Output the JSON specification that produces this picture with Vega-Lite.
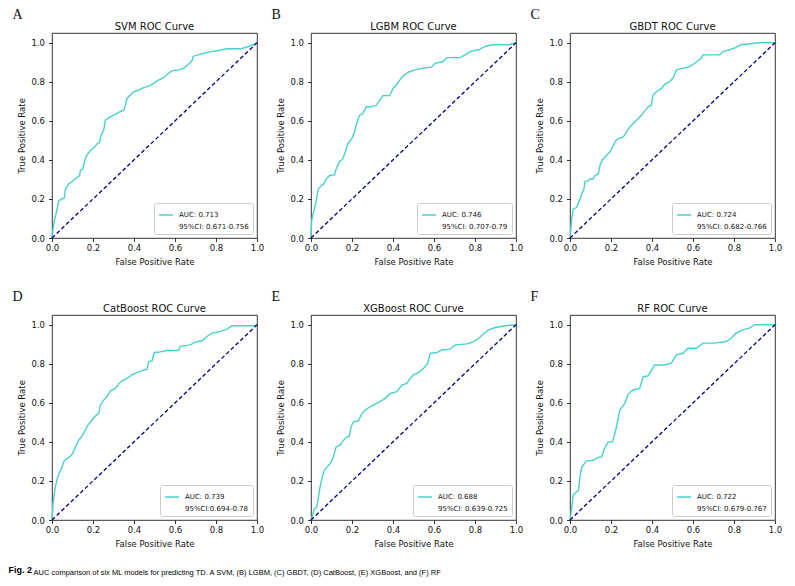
{
  "$schema": "https://vega.github.io/schema/vega-lite/v6.json",
  "padding": {"left": 8, "top": 7, "right": 5, "bottom": 5},
  "background": "white",
  "datasets": {
    "diag": [{"fpr": 0, "tpr": 0}, {"fpr": 1, "tpr": 1}],
    "roc": [
      {"model": "SVM", "fpr": 0, "tpr": 0}, {"model": "SVM", "fpr": 0.005, "tpr": 0.045}, {"model": "SVM", "fpr": 0.013, "tpr": 0.096}, {"model": "SVM", "fpr": 0.021, "tpr": 0.13}, {"model": "SVM", "fpr": 0.033, "tpr": 0.19}, {"model": "SVM", "fpr": 0.049, "tpr": 0.2}, {"model": "SVM", "fpr": 0.06, "tpr": 0.205}, {"model": "SVM", "fpr": 0.065, "tpr": 0.25}, {"model": "SVM", "fpr": 0.081, "tpr": 0.277}, {"model": "SVM", "fpr": 0.098, "tpr": 0.289}, {"model": "SVM", "fpr": 0.109, "tpr": 0.3}, {"model": "SVM", "fpr": 0.122, "tpr": 0.31}, {"model": "SVM", "fpr": 0.135, "tpr": 0.32}, {"model": "SVM", "fpr": 0.138, "tpr": 0.345}, {"model": "SVM", "fpr": 0.15, "tpr": 0.354}, {"model": "SVM", "fpr": 0.158, "tpr": 0.39}, {"model": "SVM", "fpr": 0.167, "tpr": 0.42}, {"model": "SVM", "fpr": 0.187, "tpr": 0.448}, {"model": "SVM", "fpr": 0.207, "tpr": 0.466}, {"model": "SVM", "fpr": 0.22, "tpr": 0.483}, {"model": "SVM", "fpr": 0.232, "tpr": 0.49}, {"model": "SVM", "fpr": 0.239, "tpr": 0.526}, {"model": "SVM", "fpr": 0.252, "tpr": 0.552}, {"model": "SVM", "fpr": 0.26, "tpr": 0.603}, {"model": "SVM", "fpr": 0.276, "tpr": 0.615}, {"model": "SVM", "fpr": 0.301, "tpr": 0.629}, {"model": "SVM", "fpr": 0.325, "tpr": 0.643}, {"model": "SVM", "fpr": 0.35, "tpr": 0.655}, {"model": "SVM", "fpr": 0.358, "tpr": 0.68}, {"model": "SVM", "fpr": 0.366, "tpr": 0.715}, {"model": "SVM", "fpr": 0.382, "tpr": 0.732}, {"model": "SVM", "fpr": 0.398, "tpr": 0.749}, {"model": "SVM", "fpr": 0.423, "tpr": 0.758}, {"model": "SVM", "fpr": 0.447, "tpr": 0.77}, {"model": "SVM", "fpr": 0.472, "tpr": 0.778}, {"model": "SVM", "fpr": 0.496, "tpr": 0.792}, {"model": "SVM", "fpr": 0.52, "tpr": 0.809}, {"model": "SVM", "fpr": 0.545, "tpr": 0.821}, {"model": "SVM", "fpr": 0.569, "tpr": 0.844}, {"model": "SVM", "fpr": 0.585, "tpr": 0.856}, {"model": "SVM", "fpr": 0.618, "tpr": 0.861}, {"model": "SVM", "fpr": 0.642, "tpr": 0.869}, {"model": "SVM", "fpr": 0.662, "tpr": 0.887}, {"model": "SVM", "fpr": 0.683, "tpr": 0.907}, {"model": "SVM", "fpr": 0.688, "tpr": 0.93}, {"model": "SVM", "fpr": 0.724, "tpr": 0.942}, {"model": "SVM", "fpr": 0.764, "tpr": 0.952}, {"model": "SVM", "fpr": 0.805, "tpr": 0.959}, {"model": "SVM", "fpr": 0.854, "tpr": 0.969}, {"model": "SVM", "fpr": 0.919, "tpr": 0.969}, {"model": "SVM", "fpr": 0.959, "tpr": 0.981}, {"model": "SVM", "fpr": 1, "tpr": 1},
      {"model": "LGBM", "fpr": 0, "tpr": 0}, {"model": "LGBM", "fpr": 0.003, "tpr": 0.088}, {"model": "LGBM", "fpr": 0.008, "tpr": 0.113}, {"model": "LGBM", "fpr": 0.016, "tpr": 0.148}, {"model": "LGBM", "fpr": 0.025, "tpr": 0.182}, {"model": "LGBM", "fpr": 0.029, "tpr": 0.216}, {"model": "LGBM", "fpr": 0.036, "tpr": 0.25}, {"model": "LGBM", "fpr": 0.049, "tpr": 0.268}, {"model": "LGBM", "fpr": 0.062, "tpr": 0.277}, {"model": "LGBM", "fpr": 0.074, "tpr": 0.302}, {"model": "LGBM", "fpr": 0.09, "tpr": 0.32}, {"model": "LGBM", "fpr": 0.114, "tpr": 0.323}, {"model": "LGBM", "fpr": 0.123, "tpr": 0.354}, {"model": "LGBM", "fpr": 0.139, "tpr": 0.392}, {"model": "LGBM", "fpr": 0.155, "tpr": 0.405}, {"model": "LGBM", "fpr": 0.167, "tpr": 0.44}, {"model": "LGBM", "fpr": 0.18, "tpr": 0.483}, {"model": "LGBM", "fpr": 0.199, "tpr": 0.509}, {"model": "LGBM", "fpr": 0.212, "tpr": 0.543}, {"model": "LGBM", "fpr": 0.225, "tpr": 0.595}, {"model": "LGBM", "fpr": 0.237, "tpr": 0.629}, {"model": "LGBM", "fpr": 0.253, "tpr": 0.637}, {"model": "LGBM", "fpr": 0.27, "tpr": 0.672}, {"model": "LGBM", "fpr": 0.294, "tpr": 0.672}, {"model": "LGBM", "fpr": 0.319, "tpr": 0.68}, {"model": "LGBM", "fpr": 0.335, "tpr": 0.706}, {"model": "LGBM", "fpr": 0.351, "tpr": 0.729}, {"model": "LGBM", "fpr": 0.384, "tpr": 0.729}, {"model": "LGBM", "fpr": 0.4, "tpr": 0.766}, {"model": "LGBM", "fpr": 0.417, "tpr": 0.784}, {"model": "LGBM", "fpr": 0.433, "tpr": 0.809}, {"model": "LGBM", "fpr": 0.449, "tpr": 0.83}, {"model": "LGBM", "fpr": 0.474, "tpr": 0.849}, {"model": "LGBM", "fpr": 0.507, "tpr": 0.861}, {"model": "LGBM", "fpr": 0.539, "tpr": 0.869}, {"model": "LGBM", "fpr": 0.588, "tpr": 0.875}, {"model": "LGBM", "fpr": 0.605, "tpr": 0.895}, {"model": "LGBM", "fpr": 0.645, "tpr": 0.904}, {"model": "LGBM", "fpr": 0.662, "tpr": 0.924}, {"model": "LGBM", "fpr": 0.727, "tpr": 0.924}, {"model": "LGBM", "fpr": 0.752, "tpr": 0.938}, {"model": "LGBM", "fpr": 0.776, "tpr": 0.955}, {"model": "LGBM", "fpr": 0.817, "tpr": 0.964}, {"model": "LGBM", "fpr": 0.85, "tpr": 0.981}, {"model": "LGBM", "fpr": 0.882, "tpr": 0.99}, {"model": "LGBM", "fpr": 0.964, "tpr": 0.99}, {"model": "LGBM", "fpr": 1, "tpr": 1},
      {"model": "GBDT", "fpr": 0, "tpr": 0}, {"model": "GBDT", "fpr": 0.008, "tpr": 0.096}, {"model": "GBDT", "fpr": 0.016, "tpr": 0.148}, {"model": "GBDT", "fpr": 0.032, "tpr": 0.156}, {"model": "GBDT", "fpr": 0.041, "tpr": 0.182}, {"model": "GBDT", "fpr": 0.049, "tpr": 0.199}, {"model": "GBDT", "fpr": 0.057, "tpr": 0.225}, {"model": "GBDT", "fpr": 0.068, "tpr": 0.251}, {"model": "GBDT", "fpr": 0.073, "tpr": 0.289}, {"model": "GBDT", "fpr": 0.089, "tpr": 0.294}, {"model": "GBDT", "fpr": 0.097, "tpr": 0.302}, {"model": "GBDT", "fpr": 0.113, "tpr": 0.302}, {"model": "GBDT", "fpr": 0.122, "tpr": 0.32}, {"model": "GBDT", "fpr": 0.138, "tpr": 0.328}, {"model": "GBDT", "fpr": 0.146, "tpr": 0.371}, {"model": "GBDT", "fpr": 0.159, "tpr": 0.402}, {"model": "GBDT", "fpr": 0.178, "tpr": 0.423}, {"model": "GBDT", "fpr": 0.194, "tpr": 0.44}, {"model": "GBDT", "fpr": 0.211, "tpr": 0.474}, {"model": "GBDT", "fpr": 0.224, "tpr": 0.5}, {"model": "GBDT", "fpr": 0.24, "tpr": 0.512}, {"model": "GBDT", "fpr": 0.259, "tpr": 0.517}, {"model": "GBDT", "fpr": 0.276, "tpr": 0.543}, {"model": "GBDT", "fpr": 0.292, "tpr": 0.569}, {"model": "GBDT", "fpr": 0.308, "tpr": 0.586}, {"model": "GBDT", "fpr": 0.324, "tpr": 0.603}, {"model": "GBDT", "fpr": 0.348, "tpr": 0.629}, {"model": "GBDT", "fpr": 0.365, "tpr": 0.651}, {"model": "GBDT", "fpr": 0.381, "tpr": 0.672}, {"model": "GBDT", "fpr": 0.397, "tpr": 0.68}, {"model": "GBDT", "fpr": 0.405, "tpr": 0.732}, {"model": "GBDT", "fpr": 0.421, "tpr": 0.749}, {"model": "GBDT", "fpr": 0.446, "tpr": 0.766}, {"model": "GBDT", "fpr": 0.462, "tpr": 0.787}, {"model": "GBDT", "fpr": 0.486, "tpr": 0.801}, {"model": "GBDT", "fpr": 0.502, "tpr": 0.818}, {"model": "GBDT", "fpr": 0.519, "tpr": 0.861}, {"model": "GBDT", "fpr": 0.551, "tpr": 0.869}, {"model": "GBDT", "fpr": 0.583, "tpr": 0.878}, {"model": "GBDT", "fpr": 0.608, "tpr": 0.895}, {"model": "GBDT", "fpr": 0.64, "tpr": 0.921}, {"model": "GBDT", "fpr": 0.648, "tpr": 0.938}, {"model": "GBDT", "fpr": 0.729, "tpr": 0.938}, {"model": "GBDT", "fpr": 0.746, "tpr": 0.955}, {"model": "GBDT", "fpr": 0.778, "tpr": 0.964}, {"model": "GBDT", "fpr": 0.802, "tpr": 0.973}, {"model": "GBDT", "fpr": 0.834, "tpr": 0.99}, {"model": "GBDT", "fpr": 0.924, "tpr": 1}, {"model": "GBDT", "fpr": 1, "tpr": 1},
      {"model": "CatBoost", "fpr": 0, "tpr": 0}, {"model": "CatBoost", "fpr": 0.005, "tpr": 0.082}, {"model": "CatBoost", "fpr": 0.011, "tpr": 0.134}, {"model": "CatBoost", "fpr": 0.018, "tpr": 0.177}, {"model": "CatBoost", "fpr": 0.028, "tpr": 0.22}, {"model": "CatBoost", "fpr": 0.037, "tpr": 0.245}, {"model": "CatBoost", "fpr": 0.049, "tpr": 0.271}, {"model": "CatBoost", "fpr": 0.06, "tpr": 0.305}, {"model": "CatBoost", "fpr": 0.073, "tpr": 0.314}, {"model": "CatBoost", "fpr": 0.089, "tpr": 0.326}, {"model": "CatBoost", "fpr": 0.102, "tpr": 0.343}, {"model": "CatBoost", "fpr": 0.114, "tpr": 0.374}, {"model": "CatBoost", "fpr": 0.13, "tpr": 0.408}, {"model": "CatBoost", "fpr": 0.146, "tpr": 0.429}, {"model": "CatBoost", "fpr": 0.163, "tpr": 0.46}, {"model": "CatBoost", "fpr": 0.174, "tpr": 0.485}, {"model": "CatBoost", "fpr": 0.195, "tpr": 0.511}, {"model": "CatBoost", "fpr": 0.211, "tpr": 0.532}, {"model": "CatBoost", "fpr": 0.228, "tpr": 0.545}, {"model": "CatBoost", "fpr": 0.236, "tpr": 0.588}, {"model": "CatBoost", "fpr": 0.252, "tpr": 0.614}, {"model": "CatBoost", "fpr": 0.268, "tpr": 0.631}, {"model": "CatBoost", "fpr": 0.285, "tpr": 0.662}, {"model": "CatBoost", "fpr": 0.309, "tpr": 0.674}, {"model": "CatBoost", "fpr": 0.325, "tpr": 0.696}, {"model": "CatBoost", "fpr": 0.341, "tpr": 0.713}, {"model": "CatBoost", "fpr": 0.366, "tpr": 0.725}, {"model": "CatBoost", "fpr": 0.39, "tpr": 0.743}, {"model": "CatBoost", "fpr": 0.415, "tpr": 0.755}, {"model": "CatBoost", "fpr": 0.439, "tpr": 0.765}, {"model": "CatBoost", "fpr": 0.463, "tpr": 0.772}, {"model": "CatBoost", "fpr": 0.472, "tpr": 0.811}, {"model": "CatBoost", "fpr": 0.488, "tpr": 0.816}, {"model": "CatBoost", "fpr": 0.499, "tpr": 0.858}, {"model": "CatBoost", "fpr": 0.528, "tpr": 0.861}, {"model": "CatBoost", "fpr": 0.561, "tpr": 0.868}, {"model": "CatBoost", "fpr": 0.618, "tpr": 0.868}, {"model": "CatBoost", "fpr": 0.626, "tpr": 0.889}, {"model": "CatBoost", "fpr": 0.675, "tpr": 0.897}, {"model": "CatBoost", "fpr": 0.699, "tpr": 0.911}, {"model": "CatBoost", "fpr": 0.732, "tpr": 0.918}, {"model": "CatBoost", "fpr": 0.756, "tpr": 0.94}, {"model": "CatBoost", "fpr": 0.78, "tpr": 0.957}, {"model": "CatBoost", "fpr": 0.821, "tpr": 0.966}, {"model": "CatBoost", "fpr": 0.854, "tpr": 0.978}, {"model": "CatBoost", "fpr": 0.878, "tpr": 0.995}, {"model": "CatBoost", "fpr": 0.984, "tpr": 0.995}, {"model": "CatBoost", "fpr": 1, "tpr": 1},
      {"model": "XGBoost", "fpr": 0, "tpr": 0}, {"model": "XGBoost", "fpr": 0.007, "tpr": 0.022}, {"model": "XGBoost", "fpr": 0.016, "tpr": 0.057}, {"model": "XGBoost", "fpr": 0.028, "tpr": 0.065}, {"model": "XGBoost", "fpr": 0.036, "tpr": 0.117}, {"model": "XGBoost", "fpr": 0.044, "tpr": 0.168}, {"model": "XGBoost", "fpr": 0.055, "tpr": 0.22}, {"model": "XGBoost", "fpr": 0.065, "tpr": 0.254}, {"model": "XGBoost", "fpr": 0.077, "tpr": 0.271}, {"model": "XGBoost", "fpr": 0.093, "tpr": 0.288}, {"model": "XGBoost", "fpr": 0.109, "tpr": 0.322}, {"model": "XGBoost", "fpr": 0.122, "tpr": 0.374}, {"model": "XGBoost", "fpr": 0.142, "tpr": 0.383}, {"model": "XGBoost", "fpr": 0.158, "tpr": 0.408}, {"model": "XGBoost", "fpr": 0.174, "tpr": 0.425}, {"model": "XGBoost", "fpr": 0.187, "tpr": 0.429}, {"model": "XGBoost", "fpr": 0.195, "tpr": 0.477}, {"model": "XGBoost", "fpr": 0.207, "tpr": 0.503}, {"model": "XGBoost", "fpr": 0.231, "tpr": 0.508}, {"model": "XGBoost", "fpr": 0.248, "tpr": 0.545}, {"model": "XGBoost", "fpr": 0.264, "tpr": 0.563}, {"model": "XGBoost", "fpr": 0.288, "tpr": 0.58}, {"model": "XGBoost", "fpr": 0.313, "tpr": 0.594}, {"model": "XGBoost", "fpr": 0.337, "tpr": 0.606}, {"model": "XGBoost", "fpr": 0.362, "tpr": 0.623}, {"model": "XGBoost", "fpr": 0.386, "tpr": 0.648}, {"model": "XGBoost", "fpr": 0.419, "tpr": 0.657}, {"model": "XGBoost", "fpr": 0.443, "tpr": 0.691}, {"model": "XGBoost", "fpr": 0.467, "tpr": 0.7}, {"model": "XGBoost", "fpr": 0.484, "tpr": 0.726}, {"model": "XGBoost", "fpr": 0.5, "tpr": 0.743}, {"model": "XGBoost", "fpr": 0.524, "tpr": 0.755}, {"model": "XGBoost", "fpr": 0.549, "tpr": 0.777}, {"model": "XGBoost", "fpr": 0.57, "tpr": 0.803}, {"model": "XGBoost", "fpr": 0.581, "tpr": 0.854}, {"model": "XGBoost", "fpr": 0.614, "tpr": 0.858}, {"model": "XGBoost", "fpr": 0.638, "tpr": 0.871}, {"model": "XGBoost", "fpr": 0.679, "tpr": 0.875}, {"model": "XGBoost", "fpr": 0.704, "tpr": 0.897}, {"model": "XGBoost", "fpr": 0.761, "tpr": 0.902}, {"model": "XGBoost", "fpr": 0.793, "tpr": 0.914}, {"model": "XGBoost", "fpr": 0.818, "tpr": 0.931}, {"model": "XGBoost", "fpr": 0.842, "tpr": 0.954}, {"model": "XGBoost", "fpr": 0.866, "tpr": 0.974}, {"model": "XGBoost", "fpr": 0.899, "tpr": 0.986}, {"model": "XGBoost", "fpr": 0.948, "tpr": 0.995}, {"model": "XGBoost", "fpr": 1, "tpr": 1},
      {"model": "RF", "fpr": 0, "tpr": 0}, {"model": "RF", "fpr": 0.008, "tpr": 0.057}, {"model": "RF", "fpr": 0.016, "tpr": 0.13}, {"model": "RF", "fpr": 0.029, "tpr": 0.142}, {"model": "RF", "fpr": 0.041, "tpr": 0.151}, {"model": "RF", "fpr": 0.049, "tpr": 0.22}, {"model": "RF", "fpr": 0.057, "tpr": 0.271}, {"model": "RF", "fpr": 0.065, "tpr": 0.28}, {"model": "RF", "fpr": 0.078, "tpr": 0.302}, {"model": "RF", "fpr": 0.105, "tpr": 0.305}, {"model": "RF", "fpr": 0.122, "tpr": 0.309}, {"model": "RF", "fpr": 0.138, "tpr": 0.322}, {"model": "RF", "fpr": 0.154, "tpr": 0.322}, {"model": "RF", "fpr": 0.165, "tpr": 0.357}, {"model": "RF", "fpr": 0.186, "tpr": 0.4}, {"model": "RF", "fpr": 0.207, "tpr": 0.4}, {"model": "RF", "fpr": 0.219, "tpr": 0.443}, {"model": "RF", "fpr": 0.23, "tpr": 0.494}, {"model": "RF", "fpr": 0.243, "tpr": 0.563}, {"model": "RF", "fpr": 0.267, "tpr": 0.597}, {"model": "RF", "fpr": 0.284, "tpr": 0.645}, {"model": "RF", "fpr": 0.308, "tpr": 0.666}, {"model": "RF", "fpr": 0.34, "tpr": 0.674}, {"model": "RF", "fpr": 0.357, "tpr": 0.734}, {"model": "RF", "fpr": 0.381, "tpr": 0.738}, {"model": "RF", "fpr": 0.397, "tpr": 0.768}, {"model": "RF", "fpr": 0.413, "tpr": 0.794}, {"model": "RF", "fpr": 0.462, "tpr": 0.794}, {"model": "RF", "fpr": 0.494, "tpr": 0.803}, {"model": "RF", "fpr": 0.519, "tpr": 0.846}, {"model": "RF", "fpr": 0.551, "tpr": 0.854}, {"model": "RF", "fpr": 0.575, "tpr": 0.88}, {"model": "RF", "fpr": 0.616, "tpr": 0.88}, {"model": "RF", "fpr": 0.648, "tpr": 0.906}, {"model": "RF", "fpr": 0.705, "tpr": 0.906}, {"model": "RF", "fpr": 0.762, "tpr": 0.914}, {"model": "RF", "fpr": 0.786, "tpr": 0.931}, {"model": "RF", "fpr": 0.81, "tpr": 0.957}, {"model": "RF", "fpr": 0.843, "tpr": 0.974}, {"model": "RF", "fpr": 0.875, "tpr": 0.983}, {"model": "RF", "fpr": 0.9, "tpr": 1}, {"model": "RF", "fpr": 1, "tpr": 1}
    ]
  },
  "title": {"text": "Fig. 2", "orient": "bottom", "anchor": "start", "frame": "bounds", "fontWeight": "bold", "fontSize": 9, "font": "Liberation Sans Narrow, Liberation Sans, sans-serif", "color": "black", "dx": -4, "offset": -10},
  "vconcat": [
    {
      "title": {"text": "AUC comparison of six ML models for predicting TD. A SVM, (B) LGBM, (C) GBDT, (D) CatBoost, (E) XGBoost, and (F) RF", "orient": "bottom", "anchor": "start", "frame": "bounds", "fontWeight": "normal", "fontSize": 7.5, "font": "Liberation Sans Narrow, Liberation Sans, sans-serif", "color": "black", "dx": 21, "offset": 21},
      "spacing": 23,
      "resolve": {"scale": {"color": "independent"}, "legend": {"color": "independent"}},
      "vconcat": [
        {
          "spacing": 6,
          "resolve": {"scale": {"color": "independent"}, "legend": {"color": "independent"}},
          "hconcat": [
            {"title": {"text": "A", "font": "Liberation Serif", "fontSize": 14, "dx": -5, "offset": 0, "anchor": "start", "frame": "bounds"}, "resolve": {"scale": {"color": "independent"}, "legend": {"color": "independent"}}, "vconcat": [{
              "title": "SVM ROC Curve", "width": 205, "height": 205,
              "layer": [
                {"data": {"name": "roc"}, "transform": [{"filter": "datum.model === 'SVM'"}], "mark": {"type": "line", "strokeWidth": 1.4},
                 "encoding": {"x": {"field": "fpr", "type": "quantitative", "title": "False Positive Rate", "scale": {"domain": [0, 1], "nice": false}},
                              "y": {"field": "tpr", "type": "quantitative", "title": "True Positive Rate", "scale": {"domain": [0, 1.05], "nice": false}},
                              "order": [{"field": "fpr"}, {"field": "tpr"}],
                              "color": {"field": "model", "type": "nominal", "scale": {"domain": ["SVM", "CI"], "range": ["#48D1CC", "transparent"]}, "legend": {"labelExpr": "datum.value === 'SVM' ? 'AUC: 0.713' : '95%CI: 0.671-0.756'"}}}},
                {"data": {"name": "diag"}, "mark": {"type": "line", "color": "navy", "strokeDash": [4, 2.5], "strokeWidth": 1.3},
                 "encoding": {"x": {"field": "fpr", "type": "quantitative"}, "y": {"field": "tpr", "type": "quantitative"}}}
              ]}]},
            {"title": {"text": "B", "font": "Liberation Serif", "fontSize": 14, "dx": -5, "offset": 0, "anchor": "start", "frame": "bounds"}, "resolve": {"scale": {"color": "independent"}, "legend": {"color": "independent"}}, "vconcat": [{
              "title": "LGBM ROC Curve", "width": 205, "height": 205,
              "layer": [
                {"data": {"name": "roc"}, "transform": [{"filter": "datum.model === 'LGBM'"}], "mark": {"type": "line", "strokeWidth": 1.4},
                 "encoding": {"x": {"field": "fpr", "type": "quantitative", "title": "False Positive Rate", "scale": {"domain": [0, 1], "nice": false}},
                              "y": {"field": "tpr", "type": "quantitative", "title": "True Positive Rate", "scale": {"domain": [0, 1.05], "nice": false}},
                              "order": [{"field": "fpr"}, {"field": "tpr"}],
                              "color": {"field": "model", "type": "nominal", "scale": {"domain": ["LGBM", "CI"], "range": ["#48D1CC", "transparent"]}, "legend": {"labelExpr": "datum.value === 'LGBM' ? 'AUC: 0.746' : '95%CI: 0.707-0.79'"}}}},
                {"data": {"name": "diag"}, "mark": {"type": "line", "color": "navy", "strokeDash": [4, 2.5], "strokeWidth": 1.3},
                 "encoding": {"x": {"field": "fpr", "type": "quantitative"}, "y": {"field": "tpr", "type": "quantitative"}}}
              ]}]},
            {"title": {"text": "C", "font": "Liberation Serif", "fontSize": 14, "dx": -5, "offset": 0, "anchor": "start", "frame": "bounds"}, "resolve": {"scale": {"color": "independent"}, "legend": {"color": "independent"}}, "vconcat": [{
              "title": "GBDT ROC Curve", "width": 205, "height": 205,
              "layer": [
                {"data": {"name": "roc"}, "transform": [{"filter": "datum.model === 'GBDT'"}], "mark": {"type": "line", "strokeWidth": 1.4},
                 "encoding": {"x": {"field": "fpr", "type": "quantitative", "title": "False Positive Rate", "scale": {"domain": [0, 1], "nice": false}},
                              "y": {"field": "tpr", "type": "quantitative", "title": "True Positive Rate", "scale": {"domain": [0, 1.05], "nice": false}},
                              "order": [{"field": "fpr"}, {"field": "tpr"}],
                              "color": {"field": "model", "type": "nominal", "scale": {"domain": ["GBDT", "CI"], "range": ["#48D1CC", "transparent"]}, "legend": {"labelExpr": "datum.value === 'GBDT' ? 'AUC: 0.724' : '95%CI: 0.682-0.766'"}}}},
                {"data": {"name": "diag"}, "mark": {"type": "line", "color": "navy", "strokeDash": [4, 2.5], "strokeWidth": 1.3},
                 "encoding": {"x": {"field": "fpr", "type": "quantitative"}, "y": {"field": "tpr", "type": "quantitative"}}}
              ]}]}
          ]
        },
        {
          "spacing": 6,
          "resolve": {"scale": {"color": "independent"}, "legend": {"color": "independent"}},
          "hconcat": [
            {"title": {"text": "D", "font": "Liberation Serif", "fontSize": 14, "dx": -5, "offset": 0, "anchor": "start", "frame": "bounds"}, "resolve": {"scale": {"color": "independent"}, "legend": {"color": "independent"}}, "vconcat": [{
              "title": "CatBoost ROC Curve", "width": 205, "height": 205,
              "layer": [
                {"data": {"name": "roc"}, "transform": [{"filter": "datum.model === 'CatBoost'"}], "mark": {"type": "line", "strokeWidth": 1.4},
                 "encoding": {"x": {"field": "fpr", "type": "quantitative", "title": "False Positive Rate", "scale": {"domain": [0, 1], "nice": false}},
                              "y": {"field": "tpr", "type": "quantitative", "title": "True Positive Rate", "scale": {"domain": [0, 1.05], "nice": false}},
                              "order": [{"field": "fpr"}, {"field": "tpr"}],
                              "color": {"field": "model", "type": "nominal", "scale": {"domain": ["CatBoost", "CI"], "range": ["#48D1CC", "transparent"]}, "legend": {"labelExpr": "datum.value === 'CatBoost' ? 'AUC: 0.739' : '95%CI:0.694-0.78'"}}}},
                {"data": {"name": "diag"}, "mark": {"type": "line", "color": "navy", "strokeDash": [4, 2.5], "strokeWidth": 1.3},
                 "encoding": {"x": {"field": "fpr", "type": "quantitative"}, "y": {"field": "tpr", "type": "quantitative"}}}
              ]}]},
            {"title": {"text": "E", "font": "Liberation Serif", "fontSize": 14, "dx": -5, "offset": 0, "anchor": "start", "frame": "bounds"}, "resolve": {"scale": {"color": "independent"}, "legend": {"color": "independent"}}, "vconcat": [{
              "title": "XGBoost ROC Curve", "width": 205, "height": 205,
              "layer": [
                {"data": {"name": "roc"}, "transform": [{"filter": "datum.model === 'XGBoost'"}], "mark": {"type": "line", "strokeWidth": 1.4},
                 "encoding": {"x": {"field": "fpr", "type": "quantitative", "title": "False Positive Rate", "scale": {"domain": [0, 1], "nice": false}},
                              "y": {"field": "tpr", "type": "quantitative", "title": "True Positive Rate", "scale": {"domain": [0, 1.05], "nice": false}},
                              "order": [{"field": "fpr"}, {"field": "tpr"}],
                              "color": {"field": "model", "type": "nominal", "scale": {"domain": ["XGBoost", "CI"], "range": ["#48D1CC", "transparent"]}, "legend": {"labelExpr": "datum.value === 'XGBoost' ? 'AUC: 0.688' : '95%CI: 0.639-0.725'"}}}},
                {"data": {"name": "diag"}, "mark": {"type": "line", "color": "navy", "strokeDash": [4, 2.5], "strokeWidth": 1.3},
                 "encoding": {"x": {"field": "fpr", "type": "quantitative"}, "y": {"field": "tpr", "type": "quantitative"}}}
              ]}]},
            {"title": {"text": "F", "font": "Liberation Serif", "fontSize": 14, "dx": -5, "offset": 0, "anchor": "start", "frame": "bounds"}, "resolve": {"scale": {"color": "independent"}, "legend": {"color": "independent"}}, "vconcat": [{
              "title": "RF ROC Curve", "width": 205, "height": 205,
              "layer": [
                {"data": {"name": "roc"}, "transform": [{"filter": "datum.model === 'RF'"}], "mark": {"type": "line", "strokeWidth": 1.4},
                 "encoding": {"x": {"field": "fpr", "type": "quantitative", "title": "False Positive Rate", "scale": {"domain": [0, 1], "nice": false}},
                              "y": {"field": "tpr", "type": "quantitative", "title": "True Positive Rate", "scale": {"domain": [0, 1.05], "nice": false}},
                              "order": [{"field": "fpr"}, {"field": "tpr"}],
                              "color": {"field": "model", "type": "nominal", "scale": {"domain": ["RF", "CI"], "range": ["#48D1CC", "transparent"]}, "legend": {"labelExpr": "datum.value === 'RF' ? 'AUC: 0.722' : '95%CI: 0.679-0.767'"}}}},
                {"data": {"name": "diag"}, "mark": {"type": "line", "color": "navy", "strokeDash": [4, 2.5], "strokeWidth": 1.3},
                 "encoding": {"x": {"field": "fpr", "type": "quantitative"}, "y": {"field": "tpr", "type": "quantitative"}}}
              ]}]}
          ]
        }
      ]
    }
  ],
  "config": {
    "font": "DejaVu Sans",
    "view": {"stroke": "black", "strokeWidth": 0.8},
    "axis": {
      "grid": false, "domain": false, "ticks": true, "tickColor": "black", "tickSize": 3.5, "tickWidth": 0.8,
      "values": [0, 0.2, 0.4, 0.6, 0.8, 1.0], "format": ".1f", "labelFlush": false, "labelOverlap": false,
      "labelFont": "DejaVu Sans", "labelFontSize": 8.5, "labelColor": "#111", "labelPadding": 2,
      "titleFont": "DejaVu Sans", "titleFontSize": 8.5, "titleFontWeight": "normal", "titleColor": "#111", "titlePadding": 5
    },
    "axisY": {"labelPadding": 4, "titlePadding": 4},
    "legend": {
      "orient": "bottom-right", "offset": 4, "title": null, "padding": 4, "strokeColor": "#cccccc", "fillColor": "white", "cornerRadius": 2,
      "symbolType": "stroke", "symbolSize": 200, "symbolStrokeWidth": 1.5, "labelFont": "DejaVu Sans", "labelFontSize": 7, "labelColor": "#111", "labelOffset": 5, "rowPadding": 1
    },
    "title": {"font": "DejaVu Sans", "fontSize": 10, "fontWeight": "normal", "color": "#111", "offset": 1},
    "concat": {"spacing": 6}
  }
}
